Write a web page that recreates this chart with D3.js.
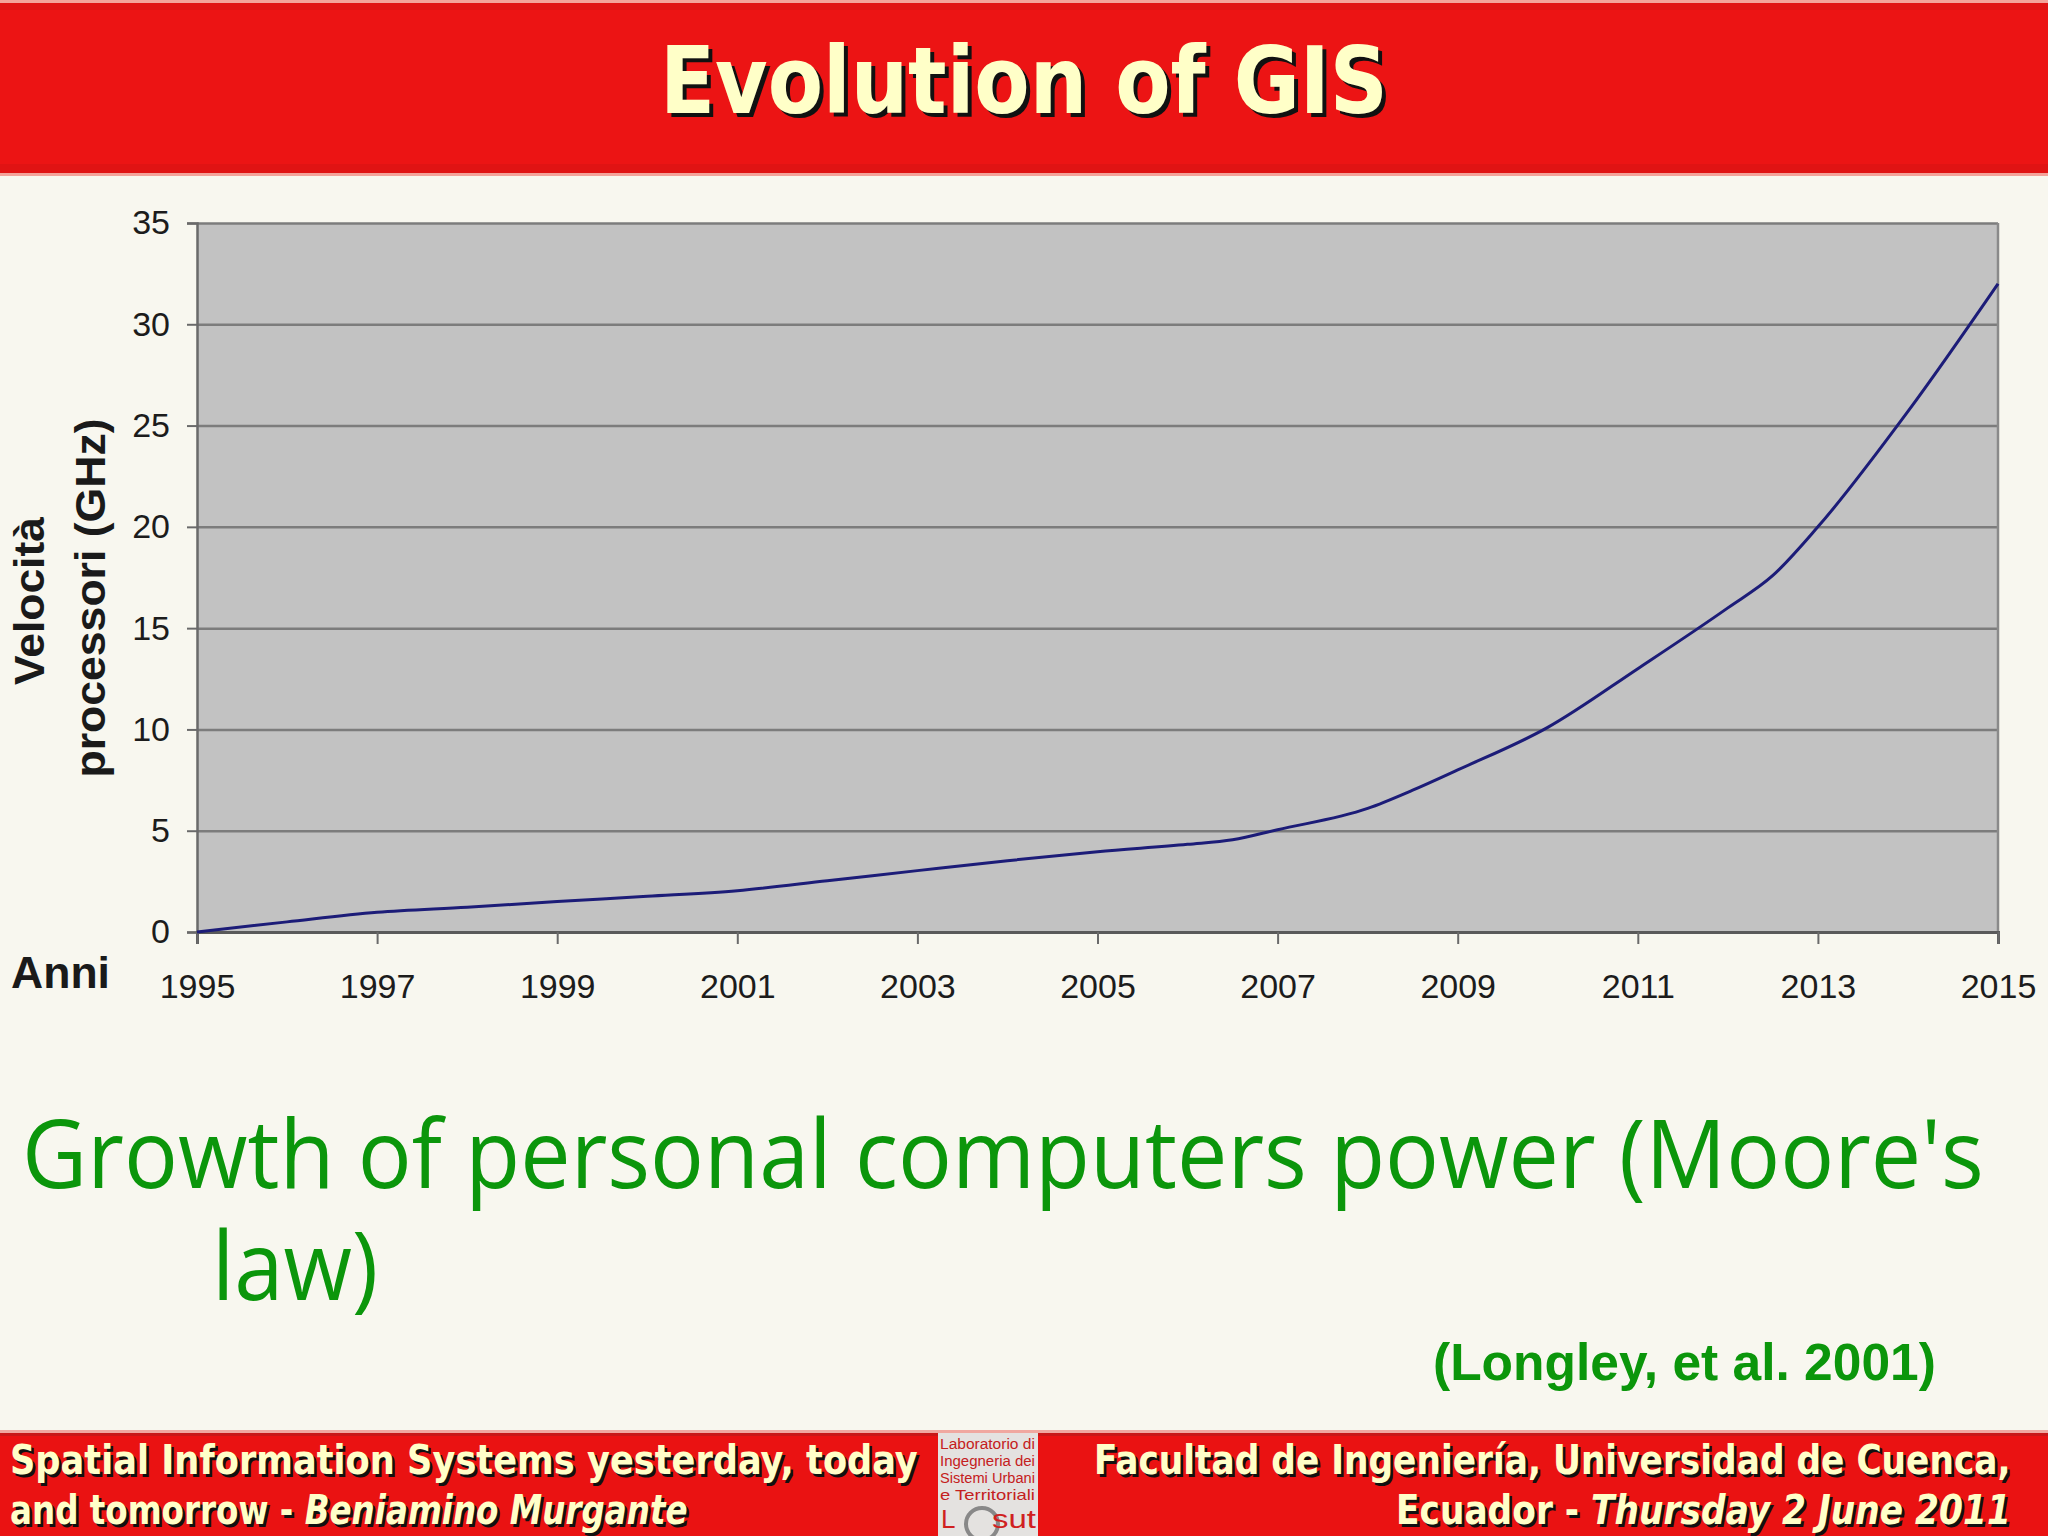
<!DOCTYPE html>
<html>
<head>
<meta charset="utf-8">
<script src="https://cdn.jsdelivr.net/npm/d3@7"></script>
<style>
  html, body { margin: 0; padding: 0; background: #f8f7ef; }
  svg { display: block; }
</style>
</head>
<body>
<script>
// ---- data ----
const years  = [1995, 1996, 1997, 1998, 1999, 2000, 2001, 2002, 2003, 2004, 2005, 2006, 2006.5, 2007, 2008, 2008.5, 2009, 2010, 2011, 2012, 2012.5, 2013, 2014, 2015];
const speeds = [0, 0.5, 0.97, 1.22, 1.5, 1.76, 2.04, 2.53, 3.03, 3.52, 3.96, 4.33, 4.55, 5.05, 6.1, 7.0, 8.0, 10.1, 13.0, 16.0, 17.6, 20.0, 25.7, 32.0];
const xTickValues = [1995, 1997, 1999, 2001, 2003, 2005, 2007, 2009, 2011, 2013, 2015];
const yTickValues = [0, 5, 10, 15, 20, 25, 30, 35];
const titleText = "Evolution of GIS";
const yLabelLines = ["Velocità", "processori (GHz)"];
const xLabelText = "Anni";
const captionLines = ["Growth of personal computers power (Moore's", "law)"];
const sourceText = "(Longley, et al. 2001)";

const W = 2048, H = 1536;
const svg = d3.select("body").append("svg").attr("width", W).attr("height", H);

svg.append("rect").attr("width", W).attr("height", H).attr("fill", "#f8f7ef");

// fit a text (created at 0,0) horizontally to a target width via a transform
function fit(t, x, y, width) {
  const w = t.node().getComputedTextLength();
  const sx = w > 0 ? width / w : 1;
  t.attr("transform", `translate(${x},${y}) scale(${sx},1)`);
  return t;
}

// ---- header bar ----
svg.append("rect").attr("x", 0).attr("y", 0).attr("width", W).attr("height", 176).attr("fill", "#f3a39a");
svg.append("rect").attr("x", 0).attr("y", 3).attr("width", W).attr("height", 170).attr("fill", "#e01313");
svg.append("rect").attr("x", 0).attr("y", 10).attr("width", W).attr("height", 154).attr("fill", "#ec1414");

function shadowText(g, x, y, opts) {
  const mk = (dx, dy, fill) => {
    const t = g.append("text").attr("x", 0).attr("y", 0)
      .attr("fill", fill)
      .attr("font-family", opts.family)
      .attr("font-size", opts.size)
      .attr("font-weight", opts.weight || "bold")
      .attr("text-anchor", opts.anchor || "start");
    opts.spans.forEach(s => t.append("tspan").attr("font-style", s.italic ? "italic" : "normal").text(s.t));
    fit(t, x + dx, y + dy, opts.length);
    return t;
  };
  mk(opts.sh || 3, opts.sh || 3, "#111");
  mk(0, 0, "#ffffc8");
}

const comic = "'DejaVu Sans Condensed', 'DejaVu Sans', sans-serif";
shadowText(svg, 660, 113, {family: comic, size: 92, length: 728, sh: 4, spans: [{t: titleText}]});

// ---- chart ----
const x = d3.scaleLinear().domain([1995, 2015]).range([197, 1998]);
const y = d3.scaleLinear().domain([0, 35]).range([932, 223]);

svg.append("rect")
  .attr("x", x(1995)).attr("y", y(35))
  .attr("width", x(2015) - x(1995)).attr("height", y(0) - y(35))
  .attr("fill", "#c2c2c2");

// gridlines
svg.append("g")
  .attr("transform", `translate(${x(1995)},0)`)
  .call(d3.axisLeft(y).tickValues(yTickValues).tickSize(-(x(2015) - x(1995))).tickFormat(""))
  .call(g => g.select(".domain").remove())
  .call(g => g.selectAll("line").attr("stroke", "#7c7c7c").attr("stroke-width", 2.5));

// right border
svg.append("line")
  .attr("x1", x(2015)).attr("x2", x(2015)).attr("y1", y(35)).attr("y2", y(0))
  .attr("stroke", "#8a8a8a").attr("stroke-width", 2.5);

// y axis
svg.append("g")
  .attr("transform", `translate(${x(1995)},0)`)
  .call(d3.axisLeft(y).tickValues(yTickValues).tickSize(10).tickPadding(17))
  .call(g => g.select(".domain").attr("stroke", "#6a6a6a").attr("stroke-width", 2.5))
  .call(g => g.selectAll("line").attr("stroke", "#6a6a6a").attr("stroke-width", 2))
  .call(g => g.selectAll("text").attr("font-family", "'Liberation Sans', Arial, sans-serif")
      .attr("font-size", 34).attr("fill", "#1c1c1c"));

// x axis
svg.append("g")
  .attr("transform", `translate(0,${y(0)})`)
  .call(d3.axisBottom(x).tickValues(xTickValues).tickFormat(d3.format("d")).tickSize(12).tickPadding(30))
  .call(g => g.select(".domain").attr("stroke", "#5a5a5a").attr("stroke-width", 3))
  .call(g => g.selectAll("line").attr("stroke", "#6a6a6a").attr("stroke-width", 2))
  .call(g => g.selectAll("text").attr("font-family", "'Liberation Sans', Arial, sans-serif")
      .attr("font-size", 34).attr("fill", "#1c1c1c"));

// line
const pts = years.map((d, i) => [d, speeds[i]]);
svg.append("path")
  .datum(pts)
  .attr("fill", "none")
  .attr("stroke", "#1c1c78")
  .attr("stroke-width", 3)
  .attr("stroke-linejoin", "round")
  .attr("d", d3.line().curve(d3.curveMonotoneX).x(d => x(d[0])).y(d => y(d[1])));

// axis titles
const narrow = "'Liberation Sans Narrow', 'Arial Narrow', 'Liberation Sans', sans-serif";
svg.append("text")
  .attr("transform", "translate(44,601) rotate(-90)")
  .attr("text-anchor", "middle")
  .attr("font-family", narrow).attr("font-weight", "bold").attr("font-size", 42)
  .attr("fill", "#1a1a1a")
  .attr("textLength", 168).attr("lengthAdjust", "spacingAndGlyphs")
  .text(yLabelLines[0]);
svg.append("text")
  .attr("transform", "translate(105,598) rotate(-90)")
  .attr("text-anchor", "middle")
  .attr("font-family", narrow).attr("font-weight", "bold").attr("font-size", 42)
  .attr("fill", "#1a1a1a")
  .attr("textLength", 359).attr("lengthAdjust", "spacingAndGlyphs")
  .text(yLabelLines[1]);
fit(svg.append("text")
  .attr("font-family", "'Liberation Sans', Arial, sans-serif").attr("font-weight", "bold").attr("font-size", 44)
  .attr("fill", "#1a1a1a")
  .text(xLabelText), 11, 988, 99);

// ---- caption ----
const green = "#0b960b";
const capFont = "'Open Sans', 'Noto Sans', sans-serif";
fit(svg.append("text")
  .attr("font-family", capFont).attr("font-size", 96)
  .attr("fill", green)
  .text(captionLines[0]), 22, 1188, 1962);
fit(svg.append("text")
  .attr("font-family", capFont).attr("font-size", 96)
  .attr("fill", green)
  .text(captionLines[1]), 212, 1300, 166);

fit(svg.append("text")
  .attr("font-family", narrow).attr("font-weight", "bold").attr("font-size", 52)
  .attr("fill", green)
  .text(sourceText), 1433, 1380, 503);

// ---- footer ----
svg.append("rect").attr("x", 0).attr("y", 1430).attr("width", W).attr("height", 106).attr("fill", "#f0a8a0");
svg.append("rect").attr("x", 0).attr("y", 1433).attr("width", W).attr("height", 103).attr("fill", "#c81818");
svg.append("rect").attr("x", 0).attr("y", 1436).attr("width", W).attr("height", 100).attr("fill", "#ea1212");

const fOpts = {family: comic, size: 40, sh: 2.5};
shadowText(svg, 10, 1474, Object.assign({}, fOpts, {length: 908, spans: [{t: "Spatial Information Systems yesterday, today"}]}));
shadowText(svg, 10, 1524, Object.assign({}, fOpts, {length: 678, spans: [{t: "and tomorrow - "}, {t: "Beniamino Murgante", italic: true}]}));
shadowText(svg, 1094, 1474, Object.assign({}, fOpts, {length: 917, spans: [{t: "Facultad de Ingeniería, Universidad de Cuenca,"}]}));
shadowText(svg, 1396, 1524, Object.assign({}, fOpts, {length: 615, spans: [{t: "Ecuador -  "}, {t: "Thursday 2 June 2011", italic: true}]}));

// logo
const logo = svg.append("g");
logo.append("rect").attr("x", 938).attr("y", 1433).attr("width", 100).attr("height", 103).attr("fill", "#e4e2e0");
const logoLines = ["Laboratorio di", "Ingegneria dei", "Sistemi Urbani", "e Territoriali"];
logoLines.forEach((t, i) => {
  fit(logo.append("text")
    .attr("font-family", narrow).attr("font-size", 15).attr("fill", "#c42020")
    .text(t), 940, 1449 + i * 17, 95);
});
logo.append("circle").attr("cx", 982).attr("cy", 1524).attr("r", 16)
  .attr("fill", "none").attr("stroke", "#888").attr("stroke-width", 4);
logo.append("text").attr("x", 941).attr("y", 1528)
  .attr("font-family", "'Liberation Sans', sans-serif").attr("font-size", 26).attr("fill", "#d02020")
  .text("L");
fit(logo.append("text")
  .attr("font-family", "'Liberation Sans', sans-serif").attr("font-size", 26).attr("fill", "#d02020")
  .text("sut"), 992, 1528, 44);
</script>
</body>
</html>
